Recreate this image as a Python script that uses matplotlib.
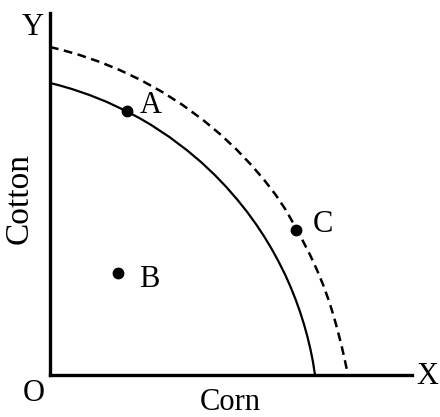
"""Production possibilities frontier: Corn vs Cotton."""

import matplotlib

matplotlib.use("Agg")
import matplotlib.pyplot as plt

# points (data units ~ pixels from origin)
ppf_x = [0, 8.1, 21.9, 39.5, 57, 76, 89.3, 101.2, 119.4, 136.7, 151, 164.8, 176.3,
         187.6, 197.2, 206.6, 214.5, 222.3, 228.8, 235.3, 240.6, 245.8, 250.1,
         254.2, 257.5, 260.6, 263, 265]
ppf_y = [292, 290, 286, 280, 273, 264, 257, 250, 238, 225, 213, 200, 188,
         175, 163, 150, 138, 125, 113, 100, 88, 75, 63,
         50, 38, 25, 13, 0]

ppf2_x = [0, 12.2, 29.6, 50, 69.6, 90.7, 112.3, 132.6, 153.1, 171.1, 187, 201.3,
          214.2, 225.8, 235.8, 244.3, 252.4, 260.1, 267, 273.2, 278.6, 283.4,
          287.5, 291.4, 294.8, 298]
ppf2_y = [328, 325, 320, 313, 305, 295, 283, 270, 255, 240, 225, 210,
          195, 180, 165, 150, 135, 120, 105, 90, 75, 60,
          45, 30, 15, 0]

point_names = ["A", "B", "C"]
point_x = [77, 68, 246]
point_y = [264, 102, 145]

plt.rcParams["font.family"] = ["Liberation Serif", "DejaVu Serif"]
FS = 22

fig = plt.figure(figsize=(4.4, 4.17), dpi=100)
ax = fig.add_axes([50 / 440, 42 / 417, 362 / 440, 362 / 417])
ax.set_xlim(0, 362)
ax.set_ylim(0, 362)

ax.plot(ppf_x, ppf_y, color="black", linewidth=1.6, solid_joinstyle="round")
ax.plot(ppf2_x, ppf2_y, color="black", linewidth=1.8, linestyle=(0, (3.5, 2.2)))
ax.plot(point_x, point_y, "o", color="black", markersize=7.5, clip_on=False)

# point labels
ax.text(90, 262, "A", fontsize=FS, ha="left", va="baseline")
ax.text(89, 88, "B", fontsize=FS, ha="left", va="baseline")
ax.text(263, 143, "C", fontsize=FS, ha="left", va="baseline")

# axis letters
ax.text(-28, 340, "Y", fontsize=FS, ha="left", va="baseline")
ax.text(366, -9, "X", fontsize=FS, ha="left", va="baseline")
ax.text(-27, -26, "O", fontsize=FS, ha="left", va="baseline")

ax.text(180, -35, "Corn", fontsize=FS, ha="center", va="baseline")
ax.text(-15, 176, "Cotton", fontsize=24, ha="right", va="center", rotation=90)

for side in ("top", "right"):
    ax.spines[side].set_visible(False)
for side in ("left", "bottom"):
    ax.spines[side].set_linewidth(2.4)
ax.set_xticks([])
ax.set_yticks([])

fig.savefig("out.png", dpi=100)
plt.close(fig)
